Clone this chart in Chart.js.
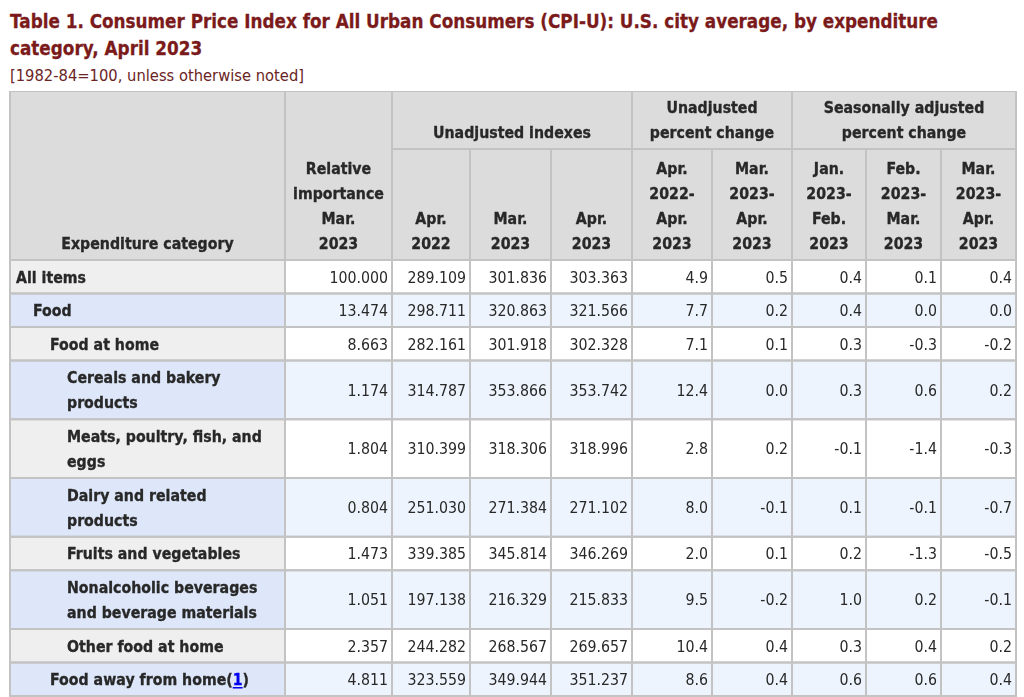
<!DOCTYPE html>
<html><head><meta charset="utf-8">
<script src="https://cdn.jsdelivr.net/npm/chart.js@4.4.0/dist/chart.umd.min.js"></script>
<style>
html,body{margin:0;padding:0;background:#fff;width:1024px;height:697px;overflow:hidden;}
.tl{position:absolute;left:10px;white-space:nowrap;font-family:"DejaVu Sans";transform-origin:0 0;}
#title{top:7.6px;font-size:19px;line-height:27px;font-weight:bold;color:#7a1a1a;-webkit-text-stroke:0.3px #7a1a1a;}
#sub{top:65.8px;font-size:15px;line-height:20px;color:#6a2424;}
#wrap{position:absolute;left:0;top:91px;width:1024px;height:606px;}
</style></head>
<body>
<div id="title" class="tl"><span id="t1">Table 1. Consumer Price Index for All Urban Consumers (CPI-U): U.S. city average, by expenditure</span><br><span>category, April 2023</span></div>
<div id="sub" class="tl"><span id="s1">[1982-84=100, unless otherwise noted]</span></div>
<div id="wrap"><canvas id="c" width="1024" height="606"></canvas></div>
<script>
// ---- data ----
const categories = ["All items","Food","Food at home","Cereals and bakery\nproducts","Meats, poultry, fish, and\neggs","Dairy and related\nproducts","Fruits and vegetables","Nonalcoholic beverages\nand beverage materials","Other food at home","Food away from home"];
const footnotes = ["","","","","","","","","","1"];
const indentLevels = [0,1,2,3,3,3,3,3,3,2];
const relativeImportance = [100.000,13.474,8.663,1.174,1.804,0.804,1.473,1.051,2.357,4.811];
const indexApr2022 = [289.109,298.711,282.161,314.787,310.399,251.030,339.385,197.138,244.282,323.559];
const indexMar2023 = [301.836,320.863,301.918,353.866,318.306,271.384,345.814,216.329,268.567,349.944];
const indexApr2023 = [303.363,321.566,302.328,353.742,318.996,271.102,346.269,215.833,269.657,351.237];
const pctApr22Apr23 = [4.9,7.7,7.1,12.4,2.8,8.0,2.0,9.5,10.4,8.6];
const pctMar23Apr23 = [0.5,0.2,0.1,0.0,0.2,-0.1,0.1,-0.2,0.4,0.4];
const saJan23Feb23 = [0.4,0.4,0.3,0.3,-0.1,0.1,0.2,1.0,0.3,0.6];
const saFeb23Mar23 = [0.1,0.0,-0.3,0.6,-1.4,-0.1,-1.3,0.2,0.4,0.6];
const saMar23Apr23 = [0.4,0.0,-0.2,0.2,-0.3,-0.7,-0.5,-0.1,0.2,0.4];

const stubHeader = "Expenditure category";
const relHeader = "Relative\nimportance\nMar.\n2023";
const groupHeaders = ["Unadjusted indexes","Unadjusted\npercent change","Seasonally adjusted\npercent change"];
const subHeaders = ["Apr.\n2022","Mar.\n2023","Apr.\n2023","Apr.\n2022-\nApr.\n2023","Mar.\n2023-\nApr.\n2023","Jan.\n2023-\nFeb.\n2023","Feb.\n2023-\nMar.\n2023","Mar.\n2023-\nApr.\n2023"];

const valueColumns = [
  {vals: relativeImportance, dec: 3},
  {vals: indexApr2022, dec: 3},
  {vals: indexMar2023, dec: 3},
  {vals: indexApr2023, dec: 3},
  {vals: pctApr22Apr23, dec: 1},
  {vals: pctMar23Apr23, dec: 1},
  {vals: saJan23Feb23, dec: 1},
  {vals: saFeb23Mar23, dec: 1},
  {vals: saMar23Apr23, dec: 1}
];

// ---- layout (table units) ----
const colWidths = [275,107,78,81,81,80,80,74,75,75];
const groupSpans = [[2,5],[5,7],[7,10]];
const headTopH = 58, headH = 169;
const rowH1 = 33.5, rowH2 = 58.75;
const LH = 25, FS = 16, CONDENSE = 0.885;
const FONT = '"DejaVu Sans"';
const TXT = '#282828', LINK = '#0000ee', GRID = '#c3c3c3';

function fitSpan(divId, spanId, target){
  const d = document.getElementById(divId), s = document.getElementById(spanId);
  const w = s.getBoundingClientRect().width;
  d.style.transform = 'scaleX(' + (target / w) + ')';
}
fitSpan('title','t1',928);
fitSpan('sub','s1',294);

const colEdges = [0];
colWidths.forEach(w => colEdges.push(colEdges[colEdges.length-1] + w));
const rowEdges = [headH];
categories.forEach(c => rowEdges.push(rowEdges[rowEdges.length-1] + (c.includes('\n') ? rowH2 : rowH1)));
const totalW = colEdges[colEdges.length-1];
const totalH = rowEdges[rowEdges.length-1];

const tablePlugin = {
  id: 'cpiTable',
  afterDraw(chart){
    const ctx = chart.ctx, xs = chart.scales.x, ys = chart.scales.y;
    const X = v => xs.getPixelForValue(v), Y = v => ys.getPixelForValue(v);
    ctx.save();
    function txt(s, x, y, align, bold, color){
      ctx.font = (bold ? 'bold ' : '') + FS + 'px ' + FONT;
      ctx.textAlign = align; ctx.textBaseline = 'alphabetic';
      ctx.fillStyle = color || TXT;
      const w = ctx.measureText(s).width * CONDENSE;
      ctx.fillText(s, x, y, w);
      if (bold) {
        ctx.strokeStyle = color || TXT; ctx.lineWidth = 0.35; ctx.lineJoin = 'round';
        ctx.strokeText(s, x, y, w);
      }
      return w;
    }
    function cell(c0, c1, r0, r1, fill){
      const x0 = X(colEdges[c0]), x1 = X(colEdges[c1]), y0 = Y(r0), y1 = Y(r1);
      ctx.fillStyle = fill; ctx.fillRect(x0, y0, x1 - x0, y1 - y0);
    }
    function stroke(c0, c1, r0, r1){
      const x0 = X(colEdges[c0]), x1 = X(colEdges[c1]), y0 = Y(r0), y1 = Y(r1);
      ctx.strokeStyle = GRID; ctx.lineWidth = 2;
      ctx.strokeRect(x0, y0, x1 - x0, y1 - y0);
    }
    function headText(label, c0, c1, bottom){
      const lines = label.split('\n');
      const cx = (X(colEdges[c0]) + X(colEdges[c1])) / 2;
      const lastY = Y(bottom) - 11.5;
      lines.forEach((l, i) => txt(l, cx, lastY - (lines.length - 1 - i) * LH, 'center', true));
    }
    const HEAD = '#dcdcdc';
    cell(0, 1, 0, headH, HEAD); cell(1, 2, 0, headH, HEAD);
    groupSpans.forEach(g => cell(g[0], g[1], 0, headTopH, HEAD));
    for (let c = 2; c < 10; c++) cell(c, c + 1, headTopH, headH, HEAD);
    categories.forEach((cat, i) => {
      const odd = i % 2 === 1;
      cell(0, 1, rowEdges[i], rowEdges[i+1], odd ? '#dde7f9' : '#efefef');
      for (let c = 1; c < 10; c++) cell(c, c + 1, rowEdges[i], rowEdges[i+1], odd ? '#eef4fe' : '#ffffff');
    });
    stroke(0, 1, 0, headH); stroke(1, 2, 0, headH);
    groupSpans.forEach(g => stroke(g[0], g[1], 0, headTopH));
    for (let c = 2; c < 10; c++) stroke(c, c + 1, headTopH, headH);
    categories.forEach((cat, i) => { for (let c = 0; c < 10; c++) stroke(c, c + 1, rowEdges[i], rowEdges[i+1]); });
    headText(stubHeader, 0, 1, headH);
    headText(relHeader, 1, 2, headH);
    groupSpans.forEach((g, k) => headText(groupHeaders[k], g[0], g[1], headTopH));
    subHeaders.forEach((h, k) => headText(h, k + 2, k + 3, headH));
    const capHalf = 0.36 * FS;
    categories.forEach((cat, i) => {
      const mid = (Y(rowEdges[i]) + Y(rowEdges[i+1])) / 2;
      const lines = cat.split('\n');
      const x0 = X(colEdges[0]) + 6 + indentLevels[i] * 17;
      lines.forEach((l, j) => {
        const y = mid + capHalf - (lines.length - 1) * LH / 2 + j * LH;
        let x = x0 + txt(l, x0, y, 'left', true);
        if (footnotes[i] && j === lines.length - 1) {
          x += txt('(', x, y, 'left', true);
          const w = txt(footnotes[i], x, y, 'left', true, LINK);
          ctx.fillStyle = LINK; ctx.fillRect(x, y + 2, w, 1.5);
          x += w;
          txt(')', x, y, 'left', true);
        }
      });
      valueColumns.forEach((col, k) => {
        const v = col.vals[i].toFixed(col.dec);
        txt(v, X(colEdges[k + 2]) - 4, mid + capHalf, 'right', false);
      });
    });
    ctx.restore();
  }
};

new Chart(document.getElementById('c'), {
  type: 'scatter',
  data: { datasets: [] },
  options: {
    responsive: false,
    animation: false,
    layout: { padding: { left: 10, right: 8, top: 0, bottom: 1 } },
    plugins: { legend: { display: false }, tooltip: { enabled: false }, title: { display: false } },
    scales: {
      x: { type: 'linear', min: 0, max: totalW, display: false },
      y: { type: 'linear', min: 0, max: totalH, reverse: true, display: false }
    }
  },
  plugins: [tablePlugin]
});
</script>
</body></html>
